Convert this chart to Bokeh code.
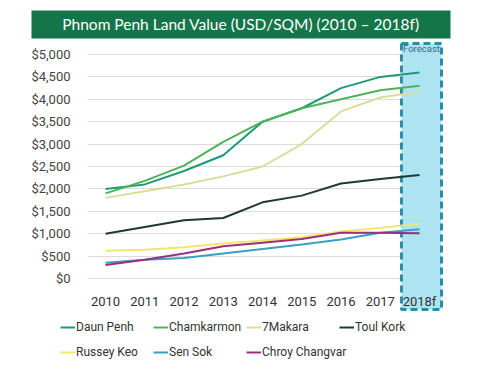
from bokeh.plotting import figure
from bokeh.models import (FixedTicker, NumeralTickFormatter, Legend, LegendItem,
                          Range1d)
from bokeh.embed import file_html
from bokeh.resources import INLINE
from bokeh.core.properties import value

# ---------------- data ----------------
years = [2010, 2011, 2012, 2013, 2014, 2015, 2016, 2017, 2018]
year_labels = ["2010", "2011", "2012", "2013", "2014", "2015", "2016", "2017", "2018f"]

daun_penh = [2000, 2100, 2400, 2750, 3500, 3800, 4250, 4500, 4600]
chamkarmon = [1900, 2180, 2520, 3050, 3500, 3800, 4000, 4200, 4300]
makara7 = [1800, 1950, 2100, 2280, 2500, 3000, 3730, 4040, 4170]
toul_kork = [1000, 1150, 1300, 1350, 1700, 1850, 2120, 2220, 2310]
russey_keo = [620, 640, 700, 780, 850, 920, 1050, 1130, 1230]
sen_sok = [350, 420, 460, 560, 660, 760, 870, 1020, 1100]
chroy_changvar = [300, 420, 560, 720, 800, 880, 1020, 1020, 1010]

series_names = ["Daun Penh", "Chamkarmon", "7Makara", "Toul Kork",
                "Russey Keo", "Sen Sok", "Chroy Changvar"]
series_values = [daun_penh, chamkarmon, makara7, toul_kork,
                 russey_keo, sen_sok, chroy_changvar]
series_colors = ["#1f9a77", "#4db35a", "#d8dd9a", "#1d3b2e",
                 "#f2e66a", "#3a9fc4", "#9b2f7e"]

y_ticks = [0, 500, 1000, 1500, 2000, 2500, 3000, 3500, 4000, 4500, 5000]

title_text = "Phnom Penh Land Value (USD/SQM) (2010 \u2013 2018f)"
forecast_text = "Forecast"

FONT = "Roboto"

# ---------------- figure (frame covers whole canvas) ----------------
p = figure(width=479, height=371, output_backend="svg", toolbar_location=None,
           x_range=Range1d(2007.3248, 2019.5287), y_range=Range1d(-2075.9, 6205.4),
           min_border=0, outline_line_color=None)

Y_AXIS_X = 2009.5414      # left edge of the plotting area
BOX_L, BOX_R = 2017.54, 2018.56

# title banner
p.quad(left=[2008.115], right=[2018.790], bottom=[5357], top=[5982],
       fill_color="#14744a", line_color=None)
p.text(x=[2013.452], y=[5670], text=[title_text], text_color="white",
       text_font=value("Lato"), text_font_size="15.5px",
       text_align="center", text_baseline="middle")

# forecast box
p.quad(left=[BOX_L], right=[BOX_R], bottom=[-692], top=[5245],
       fill_color="#aee3f1", line_color="#2b8ea6", line_width=3,
       line_dash="7 4")
p.text(x=[(BOX_L + BOX_R) / 2], y=[5140], text=[forecast_text], text_color="#2f6d8c",
       text_font=value(FONT), text_font_size="9.5px",
       text_align="center", text_baseline="middle")

renderers = []
for name, vals, col in zip(series_names, series_values, series_colors):
    r = p.line(years, vals, line_color=col, line_width=2)
    renderers.append(r)

# x axis placed at y = 0
xax = p.xaxis[0]
xax.fixed_location = 0
xax.ticker = FixedTicker(ticks=years)
xax.major_label_overrides = {y: l for y, l in zip(years, year_labels)}
xax.axis_line_color = None
xax.major_tick_line_color = None
xax.minor_tick_line_color = None
xax.major_tick_out = 0
xax.major_label_standoff = 15
xax.major_label_text_font = FONT
xax.major_label_text_font_size = "13px"
xax.major_label_text_color = "#333333"

# y axis placed at the left edge of plotting area
yax = p.yaxis[0]
yax.fixed_location = Y_AXIS_X
yax.ticker = FixedTicker(ticks=y_ticks)
yax.formatter = NumeralTickFormatter(format="$0,0")
yax.axis_line_color = None
yax.major_tick_line_color = None
yax.minor_tick_line_color = None
yax.major_tick_out = 0
yax.major_label_standoff = 17
yax.major_label_text_font = FONT
yax.major_label_text_font_size = "13px"
yax.major_label_text_color = "#444444"

p.xgrid.visible = False
g = p.ygrid[0]
g.ticker = FixedTicker(ticks=y_ticks)
g.grid_line_color = "#dcdcdc"
g.grid_line_width = 1
g.level = "underlay"
try:
    g.cross_bounds = (Y_AXIS_X, BOX_R)
except Exception:
    g.visible = False
    p.segment(x0=[Y_AXIS_X] * len(y_ticks), x1=[BOX_L] * len(y_ticks),
              y0=y_ticks, y1=y_ticks, line_color="#dcdcdc", line_width=1,
              level="underlay")

# legends (two rows)
def make_legend(idx, loc):
    items = [LegendItem(label=series_names[i], renderers=[renderers[i]]) for i in idx]
    return Legend(items=items, orientation="horizontal", location=loc,
                  padding=0, margin=0, spacing=0, glyph_width=15, glyph_height=16,
                  label_standoff=1, label_width=77, label_height=16,
                  label_text_font=FONT, label_text_font_size="12px",
                  label_text_color="#333333", border_line_color=None,
                  background_fill_alpha=0)

p.add_layout(make_legend([0, 1, 2, 3], (60, 36)), "center")
p.add_layout(make_legend([4, 5, 6], (60, 11)), "center")

open("out.html", "w").write(file_html(p, INLINE))
